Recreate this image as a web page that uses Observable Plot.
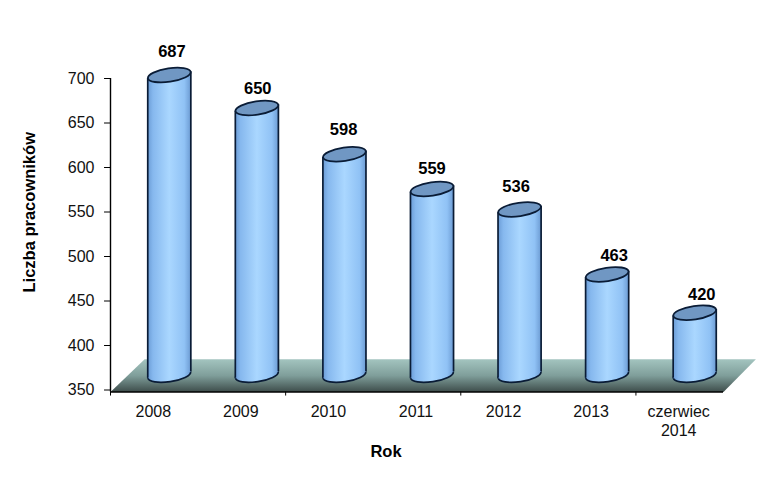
<!DOCTYPE html>
<html lang="pl">
<head>
<meta charset="utf-8">
<script src="https://cdn.jsdelivr.net/npm/d3@7"></script>
<script src="https://cdn.jsdelivr.net/npm/@observablehq/plot@0.6"></script>
<style>
  html, body { margin: 0; padding: 0; background: #fff; }
  svg { display: block; }
</style>
</head>
<body>
<div id="chart"></div>
<script>
const categories = ["2008", "2009", "2010", "2011", "2012", "2013", "czerwiec\n2014"];
const values = [687, 650, 598, 559, 536, 463, 420];
const yTicks = [350, 400, 450, 500, 550, 600, 650, 700];
const xTickSlots = [0, 2, 4, 6];
const floorSlots = [0, 0.39, 7.37, 7];
const floorLevels = [347.7, 384.5, 384.5, 347.7];
const labelSlotNudge = [0.03, 0.01, -0.01, 0, -0.04, 0.08, 0.08];
const labelValueNudge = [2, -3, 3, -1, 1, -3, -4];

const rows = categories.map((name, i) => ({
  name, value: values[i], slot: i + 0.5,
  labelSlot: i + 0.5 + labelSlotNudge[i],
  labelValue: values[i] + labelValueNudge[i]
}));

// cylinder geometry in scale units
const halfSlot = 0.246, tilt = 3.6, baseDrop = 0;
const depthX = 15, topLift = 15;
const ink = "#0a1c36";

function tiltedEllipse(rx, ry, deg) {
  const a = deg * Math.PI / 180, c = Math.cos(a), s = Math.sin(a), k = 0.5523;
  const p = (x, y) => [x * c - y * s, x * s + y * c];
  return {
    draw(ctx) {
      const pts = [[rx, 0], [rx, k * ry], [k * rx, ry], [0, ry], [-k * rx, ry], [-rx, k * ry], [-rx, 0],
                   [-rx, -k * ry], [-k * rx, -ry], [0, -ry], [k * rx, -ry], [rx, -k * ry], [rx, 0]].map(q => p(q[0], q[1]));
      ctx.moveTo(pts[0][0], pts[0][1]);
      for (let i = 1; i < pts.length; i += 3) {
        ctx.bezierCurveTo(pts[i][0], pts[i][1], pts[i + 1][0], pts[i + 1][1], pts[i + 2][0], pts[i + 2][1]);
      }
      ctx.closePath();
    }
  };
}
const capSymbol = tiltedEllipse(21.6, 6.7, -8.5);
const baseLevel = 350 - baseDrop;

const bodies = rows.flatMap(d => [
  {slot: d.slot, s: d.slot - halfSlot, v: d.value - tilt},
  {slot: d.slot, s: d.slot + halfSlot, v: d.value + tilt},
  {slot: d.slot, s: d.slot + halfSlot, v: baseLevel + tilt},
  {slot: d.slot, s: d.slot - halfSlot, v: baseLevel - tilt}
]);
const bases = rows.map(d => ({slot: d.slot, value: baseLevel}));

const defs = () => {
  const ns = "http://www.w3.org/2000/svg";
  const d = document.createElementNS(ns, "defs");
  d.innerHTML = `
    <linearGradient id="cyl" x1="0" x2="1" y1="0" y2="0">
      <stop offset="0" stop-color="#6b9cd6"/>
      <stop offset="0.12" stop-color="#86b8ee"/>
      <stop offset="0.5" stop-color="#aad7ff"/>
      <stop offset="0.85" stop-color="#90c2f5"/>
      <stop offset="1" stop-color="#6c9bd3"/>
    </linearGradient>
    <linearGradient id="floor" x1="0" x2="0" y1="0" y2="1">
      <stop offset="0" stop-color="#a3c4bf"/>
      <stop offset="0.5" stop-color="#7f9e9a"/>
      <stop offset="1" stop-color="#3d4c4a"/>
    </linearGradient>`;
  return d;
};

const sans = "Arial, 'Liberation Sans', sans-serif";
const plot = Plot.plot({
  width: 778,
  height: 478,
  marginLeft: 110,
  marginRight: 55,
  marginTop: 78,
  marginBottom: 88.5,
  style: {background: "#fff", fontFamily: sans, overflow: "visible"},
  x: {domain: [0, 7], axis: null},
  y: {domain: [350, 700], axis: null},
  marks: [
    defs,
    // floor
    Plot.line(floorSlots.map((s, i) => ({s, v: floorLevels[i]})), {
      x: "s", y: "v", fill: "url(#floor)", stroke: "none"
    }),
    // base ellipse
    Plot.dot(bases, {x: "slot", y: "value", dx: depthX, dy: -topLift, r: 1, symbol: capSymbol,
      fill: "url(#cyl)", stroke: ink, strokeWidth: 1.7}),
    // body
    Plot.line(bodies, {x: "s", y: "v", z: "slot", dx: depthX, dy: -topLift, fill: "url(#cyl)", stroke: "none"}),
    // side edges
    Plot.ruleX(rows, {x: d => d.slot - halfSlot, y1: baseLevel - tilt, y2: d => d.value - tilt, dx: depthX, dy: -topLift,
      stroke: ink, strokeWidth: 1.7}),
    Plot.ruleX(rows, {x: d => d.slot + halfSlot, y1: baseLevel + tilt, y2: d => d.value + tilt, dx: depthX, dy: -topLift,
      stroke: ink, strokeWidth: 1.7}),
    // top ellipse
    Plot.dot(rows, {x: "slot", y: "value", dx: depthX, dy: -topLift, r: 1, symbol: capSymbol,
      fill: "#7097c3", stroke: ink, strokeWidth: 1.8}),
    // value labels
    Plot.text(rows, {x: "labelSlot", y: "labelValue", text: d => String(d.value), dx: depthX, dy: -36.5,
      fontWeight: "bold", fontSize: 16.5, fill: "#000"}),
    // axis lines
    Plot.ruleX([0], {y1: 700, y2: 347.7, stroke: "#000", strokeWidth: 1.4}),
    Plot.ruleY([347.7], {x1: 0, x2: 7, stroke: "#000", strokeWidth: 1.6}),
    // y ticks
    Plot.ruleY(yTicks, {y: d => d, x1: -0.068, x2: 0, stroke: "#000", strokeWidth: 1}),
    Plot.text(yTicks, {x: 0, y: d => d, text: d => String(d), dx: -16, textAnchor: "end", fontSize: 16, fill: "#111"}),
    // x ticks
    Plot.ruleX(xTickSlots, {x: d => d, y1: 347.7, y2: 343.2, stroke: "#000", strokeWidth: 1}),
    Plot.text(rows, {x: "slot", y: 347.7, text: "name", dx: -1, dy: 12, lineAnchor: "top", fontSize: 16, lineHeight: 1.15, fill: "#111"}),
    // axis titles
    Plot.text(["Rok"], {x: 3.146, y: 347.7, dy: 60, fontWeight: "bold", fontSize: 16.5, fill: "#000"}),
    Plot.text(["Liczba pracowników"], {x: 0, y: 549.7, dx: -81, rotate: -90, fontWeight: "bold", fontSize: 16.5, fill: "#000"})
  ]
});
document.getElementById("chart").append(plot);
</script>
</body>
</html>
